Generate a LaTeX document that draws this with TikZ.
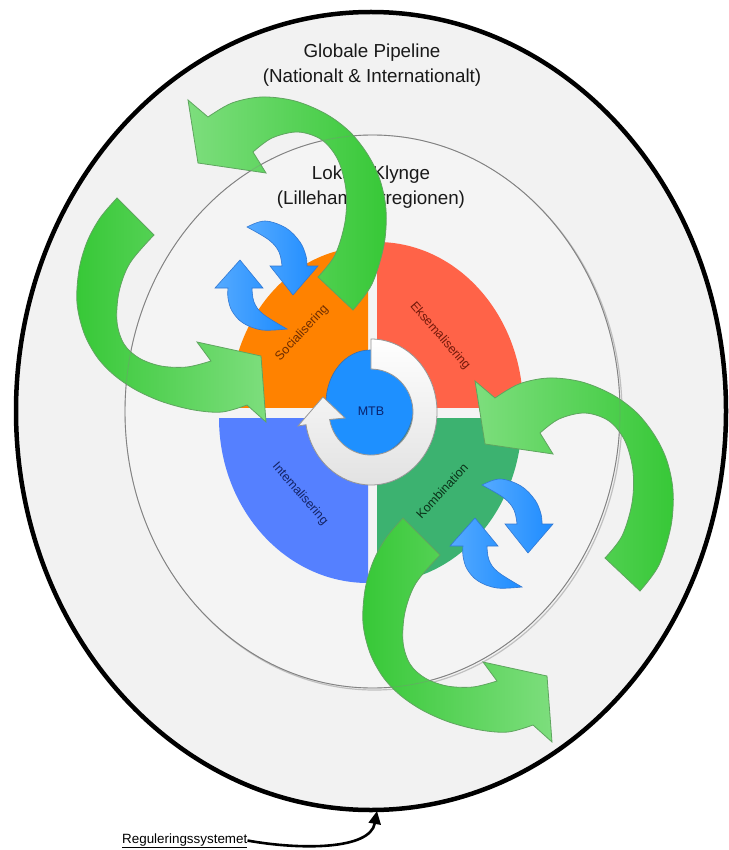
\documentclass[tikz,border=0pt]{standalone}
\usepackage{fontspec}
\setmainfont{Liberation Sans}
\usetikzlibrary{arrows.meta}

\definecolor{outerfill}{RGB}{242,242,242}
\definecolor{innerfill}{RGB}{244,244,244}
\definecolor{innerline}{RGB}{130,130,130}
\definecolor{qorange}{RGB}{255,130,0}
\definecolor{qred}{RGB}{255,99,72}
\definecolor{qblue}{RGB}{85,128,255}
\definecolor{qgreen}{RGB}{60,178,112}
\definecolor{mtbblue}{RGB}{30,144,255}
\definecolor{mtbline}{RGB}{60,110,170}
\definecolor{ringline}{RGB}{150,150,150}
\definecolor{ringdark}{RGB}{226,226,226}
\definecolor{glight}{RGB}{125,222,125}
\definecolor{gdark}{RGB}{55,200,55}
\definecolor{gline}{RGB}{95,165,95}
\definecolor{blight}{RGB}{85,170,255}
\definecolor{bdark}{RGB}{30,140,255}
\definecolor{bline}{RGB}{50,120,210}
\definecolor{txorange}{RGB}{110,45,0}
\definecolor{txred}{RGB}{115,25,10}
\definecolor{txblue}{RGB}{20,35,100}
\definecolor{txgreen}{RGB}{10,50,25}
\definecolor{txmtb}{RGB}{10,35,110}
\definecolor{titletx}{RGB}{25,25,25}

% pair of small exchange arrows
\newcommand\drawbluepair{%
  \path[bluearrow] plot[smooth,tension=.6] coordinates
      {(247,227) (265,221) (286,228) (300,242) (306,256) (307,266)}
    -- (318,266) -- (293,295) -- (270,266)
    -- plot[smooth,tension=.6] coordinates {(282,266) (279,252) (269,240) (247,227)}
    -- cycle;
  \path[bluearrow] (240,260) -- (263,288)
    -- plot[smooth,tension=.6] coordinates {(252,288) (254,302) (263,314) (287,329)}
    -- plot[smooth,tension=.6] coordinates {(287,329) (262,330) (243,323) (232,311) (228,298) (228,288)}
    -- (215,288) -- cycle;
}
% large arrow bending over the top, head to the left
\newcommand\drawgreentop{%
  \path[greenarrow, left color=glight, right color=gdark]
    plot[smooth,tension=.55] coordinates
      {(353,310) (372,284) (384,245) (386,210) (380,180) (368,155) (350,132)
       (326,114) (295,101) (262,97) (232,103) (208,117)}
    -- (188,100) -- (198,163) -- (266,173)
    -- plot[smooth,tension=.55] coordinates
      {(253,152) (272,138) (298,132) (322,140) (338,160) (346,190) (345,222)
       (335,255) (318,277)}
    -- cycle;
}
% large arrow bending round the left, head to the right
\newcommand\drawgreenleft{%
  \path[greenarrow, left color=gdark, right color=glight]
    plot[smooth,tension=.55] coordinates
      {(117,198) (100,218) (87,242) (79,270) (77,303) (84,333) (97,357)
       (114,375) (136,390) (163,402) (194,410) (222,412) (247,405)}
    -- (266,422) -- (261,356) -- (197,342)
    -- plot[smooth,tension=.55] coordinates
      {(211,361) (187,367) (161,366) (139,358) (124,344) (117,322) (119,292)
       (130,263) (154,235)}
    -- cycle;
}

\begin{document}
\begin{tikzpicture}[x=1pt,y=1pt,yscale=-1,
  titletext/.style={align=center, text=titletx, inner sep=0pt,
    font=\fontsize{18.8}{25}\selectfont},
  quadlabel/.style={inner sep=0pt, font=\fontsize{12.5}{14}\selectfont},
  greenarrow/.style={draw=gline, line width=0.8},
  bluearrow/.style={draw=bline, line width=0.6, left color=blight, right color=bdark}
]
\useasboundingbox (0,0) rectangle (728,850);
\fill[white] (0,0) rectangle (728,850);

% outer region: global pipeline
\path[draw=black, line width=4.5, fill=outerfill] (371,411) ellipse[x radius=355, y radius=399];
\node[titletext] (global) at (372,65) {Globale Pipeline\\(Nationalt \& Internationalt)};

% inner region: local cluster
\path[draw=innerline!50, line width=1.2] (374.5,413.5) ellipse[x radius=247.5, y radius=276.5];
\path[draw=innerline, line width=0.9, fill=innerfill] (372.5,411.5) ellipse[x radius=247.5, y radius=276.5];
\node[titletext] (local) at (371,187) {Lokale Klynge\\(Lillehammerregionen)};

% four quadrants of the knowledge cycle
\begin{scope}
  \clip (200,200) rectangle (368,407);
  \fill[qorange] (368,407) ellipse[x radius=138, y radius=160];
\end{scope}
\begin{scope}
  \clip (377,200) rectangle (560,407);
  \fill[qred] (377,407) ellipse[x radius=146, y radius=165];
\end{scope}
\begin{scope}
  \clip (200,418) rectangle (368,620);
  \fill[qblue] (368,418) ellipse[x radius=149, y radius=165];
\end{scope}
\begin{scope}
  \clip (377,418) rectangle (560,620);
  \fill[qgreen] (377,418) ellipse[x radius=145, y radius=165];
\end{scope}

\node[quadlabel, text=txorange, rotate=47] (soc) at (302,333) {Socialisering};
\node[quadlabel, text=txred, rotate=-49] (eks) at (440,336) {Eksemalisering};
\node[quadlabel, text=txblue, rotate=-49] (int) at (300,494) {Intemalisering};
\node[quadlabel, text=txgreen, rotate=47] (kom) at (442,491) {Kombination};

% centre: MTB with circular arrow
\path[draw=mtbline, line width=0.6, fill=mtbblue] (370,403) ellipse[x radius=44, y radius=53];
\path[draw=ringline, line width=0.8, top color=white, bottom color=ringdark]
  (371,339) arc[start angle=-90, end angle=170, x radius=66, y radius=73]
  -- (298,426) -- (323,397) -- (345,418) -- (329.6,419.5)
  arc[start angle=170, end angle=-90, x radius=42, y radius=43] -- cycle;
\node[inner sep=0pt, text=txmtb, font=\fontsize{12.5}{14}\selectfont] (mtb) at (371,411) {MTB};

% small exchange arrows
\drawbluepair
\begin{scope}[shift={(235,258)}]
  \drawbluepair
\end{scope}

% large knowledge-flow arrows
\drawgreentop
\begin{scope}[shift={(287,281)}]
  \drawgreentop
\end{scope}
\drawgreenleft
\begin{scope}[shift={(286,320)}]
  \drawgreenleft
\end{scope}

% boundary of the local cluster seen through the arrows
\path[draw=innerline, line width=0.8, opacity=0.35] (372.5,411.5) ellipse[x radius=247.5, y radius=276.5];

% regulation system
\node[inner sep=0pt, anchor=base west, font=\fontsize{13.4}{15}\selectfont] (reg) at (122,843) {\underline{Reguleringssystemet}};
\coordinate (regtip) at (377,811);
\draw[line width=2.6, -{Triangle[length=13pt,width=12pt]}] (reg.east) .. controls (300,850) and (370,850) .. (regtip);
\end{tikzpicture}
\end{document}
